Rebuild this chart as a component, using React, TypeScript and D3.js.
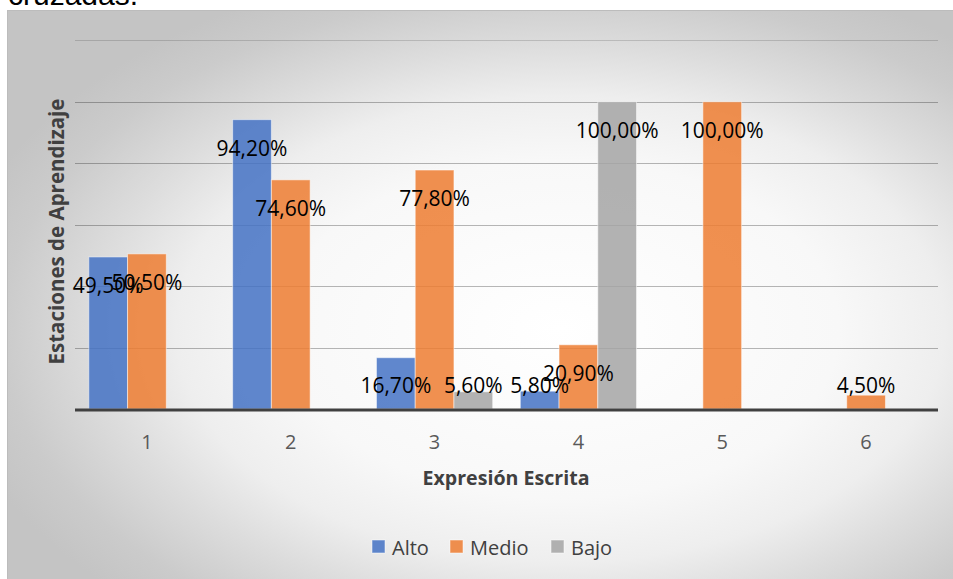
import React from "react";
import * as d3 from "d3";

// Categories (Expresión Escrita levels) and the three series (Estaciones de Aprendizaje)
const categories = ["1", "2", "3", "4", "5", "6"];
const seriesNames = ["Alto", "Medio", "Bajo"];
const alto: (number | null)[] = [49.5, 94.2, 16.7, 5.8, null, null];
const medio: (number | null)[] = [50.5, 74.6, 77.8, 20.9, 100, 4.5];
const bajo: (number | null)[] = [null, null, 5.6, 100, null, null];
const yTicks = [0, 20, 40, 60, 80, 100, 120];

const seriesValues = [alto, medio, bajo];
const seriesColors = ["#4472C4", "#ED7D31", "#A5A5A5"];

const W = 953;
const H = 579;
const FONT = "'Open Sans', 'Liberation Sans', sans-serif";

const fmt = (v: number) => v.toFixed(2).replace(".", ",") + "%";

export default function App() {
  const plotLeft = 75;
  const plotRight = 938;
  const y = d3.scaleLinear().domain([0, 120]).range([409, 40.4]);
  const x0 = d3.scaleBand<string>().domain(categories).range([plotLeft, plotRight]).padding(0);
  const bw = x0.bandwidth();
  const groupPad = bw * 0.096;
  const x1 = d3
    .scaleBand<string>()
    .domain(seriesNames)
    .range([groupPad, bw - groupPad])
    .padding(0);

  const bars: { key: string; x: number; w: number; y0: number; y1: number; color: string; v: number }[] = [];
  seriesValues.forEach((vals, si) => {
    vals.forEach((v, ci) => {
      if (v == null) return;
      const cx = (x0(categories[ci]) as number) + (x1(seriesNames[si]) as number);
      bars.push({
        key: `${si}-${ci}`,
        x: cx,
        w: x1.bandwidth(),
        y0: y(0),
        y1: y(v),
        color: seriesColors[si],
        v,
      });
    });
  });

  const legendItems = [
    { name: seriesNames[0], color: seriesColors[0], x: 372 },
    { name: seriesNames[1], color: seriesColors[1], x: 450 },
    { name: seriesNames[2], color: seriesColors[2], x: 551 },
  ];

  return (
    <svg
      width={W}
      height={H}
      style={{ position: "absolute", left: 0, top: 0, display: "block" }}
      fontFamily={FONT}
    >
      <defs>
        <radialGradient id="chartBg" cx="58%" cy="55%" r="65%">
          <stop offset="0" stopColor="#ffffff" />
          <stop offset="0.45" stopColor="#f8f8f8" />
          <stop offset="0.62" stopColor="#eeeeee" />
          <stop offset="0.75" stopColor="#dddddd" />
          <stop offset="0.9" stopColor="#cbcbcb" />
          <stop offset="1" stopColor="#c4c4c4" />
        </radialGradient>
      </defs>
      <rect x={0} y={0} width={W} height={H} fill="#ffffff" />
      {/* tail of the preceding paragraph */}
      <text x={8} y={5} fontSize={30} fill="#000" fontFamily="'Liberation Sans', Arial, sans-serif">
        cruzadas.
      </text>

      <rect x={7.5} y={10.5} width={W} height={H} fill="url(#chartBg)" stroke="#bcbcbc" strokeWidth={1} />

      {/* gridlines */}
      {yTicks.slice(1).map((t) => (
        <line
          key={t}
          x1={plotLeft}
          x2={plotRight}
          y1={Math.round(y(t)) + 0.5}
          y2={Math.round(y(t)) + 0.5}
          stroke="#000"
          strokeOpacity={t === 120 ? 0.15 : 0.28}
          strokeWidth={1}
        />
      ))}

      {/* bars */}
      {bars.map((b) => (
        <rect
          key={b.key}
          x={b.x}
          y={b.y1}
          width={b.w}
          height={b.y0 - b.y1}
          fill={b.color}
          fillOpacity={0.85}
          stroke="#ffffff"
          strokeOpacity={0.5}
          strokeWidth={1}
        />
      ))}

      {/* category axis line */}
      <line x1={plotLeft} x2={plotRight} y1={410} y2={410} stroke="#404040" strokeWidth={3} />

      {/* data labels */}
      {bars.map((b) => (
        <text
          key={"l" + b.key}
          x={b.x + b.w / 2}
          y={Math.min(b.y1 + 28, 384.5)}
          textAnchor="middle"
          dominantBaseline="central"
          fontSize={21}
          fill="#000"
        >
          {fmt(b.v)}
        </text>
      ))}

      {/* category tick labels */}
      {categories.map((c) => (
        <text
          key={"t" + c}
          x={(x0(c) as number) + bw / 2}
          y={441}
          textAnchor="middle"
          dominantBaseline="central"
          fontSize={20}
          fill="#595959"
        >
          {c}
        </text>
      ))}

      {/* axis titles */}
      <text x={506} y={477} textAnchor="middle" dominantBaseline="central" fontSize={19.6} fontWeight="bold" fill="#404040">
        Expresión Escrita
      </text>
      <text
        transform="translate(56,231.5) rotate(-90)"
        textAnchor="middle"
        dominantBaseline="central"
        fontSize={20.5}
        fontWeight="bold"
        fill="#404040"
      >
        Estaciones de Aprendizaje
      </text>

      {/* legend */}
      {legendItems.map((it) => (
        <g key={it.name}>
          <rect x={it.x} y={540} width={13} height={13} fill={it.color} fillOpacity={0.85} stroke="#fff" strokeOpacity={0.5} />
          <text x={it.x + 20} y={547.5} dominantBaseline="central" fontSize={20} fill="#404040">
            {it.name}
          </text>
        </g>
      ))}
    </svg>
  );
}
